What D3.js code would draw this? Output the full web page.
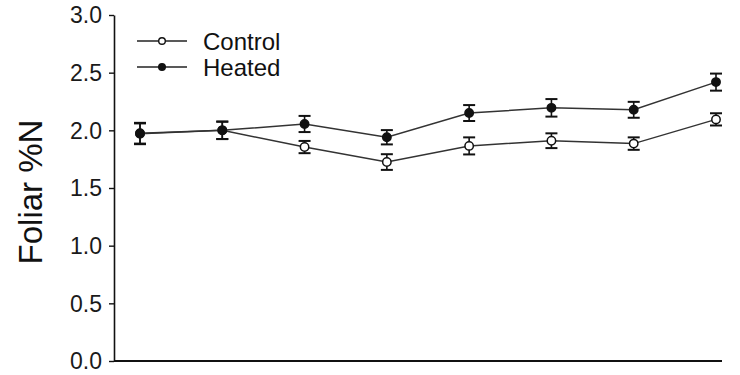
<!DOCTYPE html>
<html>
<head>
<meta charset="utf-8">
<script src="https://cdn.jsdelivr.net/npm/d3@7"></script>
<style>
  html, body { margin: 0; padding: 0; background: #fff; }
  svg { display: block; font-family: "Liberation Sans", Arial, sans-serif; }
</style>
</head>
<body>
<svg id="chart" width="740" height="375"></svg>
<script>
// Sampling dates (unlabelled on the axis)
const periods = [1, 2, 3, 4, 5, 6, 7, 8];

// Foliar nitrogen (%), mean and standard error
const controlMean = [1.97, 2.00, 1.855, 1.725, 1.865, 1.91, 1.885, 2.095];
const controlSE   = [0.09, 0.075, 0.053, 0.068, 0.074, 0.064, 0.054, 0.053];
const heatedMean  = [1.975, 2.00, 2.055, 1.94, 2.15, 2.195, 2.178, 2.418];
const heatedSE    = [0.09, 0.076, 0.07, 0.062, 0.069, 0.076, 0.069, 0.074];

const yTicks = [0.0, 0.5, 1.0, 1.5, 2.0, 2.5, 3.0];
const seriesNames = ["Control", "Heated"];

const svg = d3.select("#chart");
const axisX = 114, axisRight = 722;

const x = d3.scaleLinear().domain([1, 8]).range([140, 716]);
const y = d3.scaleLinear().domain([0, 3]).range([361, 15]);

// Y axis
const yAxis = d3.axisLeft(y)
  .tickValues(yTicks)
  .tickFormat(d3.format(".1f"))
  .tickSizeOuter(0)
  .tickSizeInner(5)
  .tickPadding(7);

const gy = svg.append("g")
  .attr("transform", `translate(${axisX},0)`)
  .call(yAxis);
gy.select(".domain").attr("stroke", "#111").attr("stroke-width", 1.6);
gy.selectAll(".tick line").attr("stroke", "#111").attr("stroke-width", 1.4);
gy.selectAll(".tick text")
  .attr("fill", "#1a1a1a")
  .attr("dy", "0.34em")
  .style("font-size", "23px");

// X axis baseline (no ticks)
svg.append("line")
  .attr("x1", axisX).attr("x2", axisRight)
  .attr("y1", y(0)).attr("y2", y(0))
  .attr("stroke", "#111").attr("stroke-width", 1.8);

// Y axis title
svg.append("text")
  .attr("transform", `translate(42,192) rotate(-90)`)
  .attr("text-anchor", "middle")
  .attr("fill", "#111")
  .style("font-size", "33px")
  .text("Foliar %N");

const series = [
  { name: seriesNames[0], mean: controlMean, se: controlSE, fill: "#fff" },
  { name: seriesNames[1], mean: heatedMean, se: heatedSE, fill: "#111" }
];

const line = d3.line()
  .x((d, i) => x(periods[i]))
  .y(d => y(d));

series.forEach(s => {
  const g = svg.append("g");
  g.append("path")
    .datum(s.mean)
    .attr("d", line)
    .attr("fill", "none")
    .attr("stroke", "#333")
    .attr("stroke-width", 1.5);

  const pts = s.mean.map((m, i) => ({ p: periods[i], m, e: s.se[i] }));

  const eb = g.selectAll(".eb").data(pts).enter().append("g");
  eb.append("line")
    .attr("x1", d => x(d.p)).attr("x2", d => x(d.p))
    .attr("y1", d => y(d.m + d.e)).attr("y2", d => y(d.m - d.e))
    .attr("stroke", "#111").attr("stroke-width", 1.6);
  [1, -1].forEach(sign => {
    eb.append("line")
      .attr("x1", d => x(d.p) - 6).attr("x2", d => x(d.p) + 6)
      .attr("y1", d => y(d.m + sign * d.e)).attr("y2", d => y(d.m + sign * d.e))
      .attr("stroke", "#111").attr("stroke-width", 2);
  });

  g.selectAll(".pt").data(pts).enter().append("circle")
    .attr("cx", d => x(d.p))
    .attr("cy", d => y(d.m))
    .attr("r", 4.2)
    .attr("fill", s.fill)
    .attr("stroke", "#111")
    .attr("stroke-width", 1.5);
});

// Legend
const legend = svg.append("g");
series.forEach((s, i) => {
  const ly = 41 + i * 26;
  legend.append("line")
    .attr("x1", 137).attr("x2", 187)
    .attr("y1", ly).attr("y2", ly)
    .attr("stroke", "#222").attr("stroke-width", 1.5);
  legend.append("circle")
    .attr("cx", 162).attr("cy", ly).attr("r", 3.3)
    .attr("fill", s.fill).attr("stroke", "#111").attr("stroke-width", 1.4);
  legend.append("text")
    .attr("x", 203).attr("y", ly)
    .attr("dy", "0.36em")
    .attr("fill", "#111")
    .style("font-size", "24px")
    .text(s.name);
});
</script>
</body>
</html>
